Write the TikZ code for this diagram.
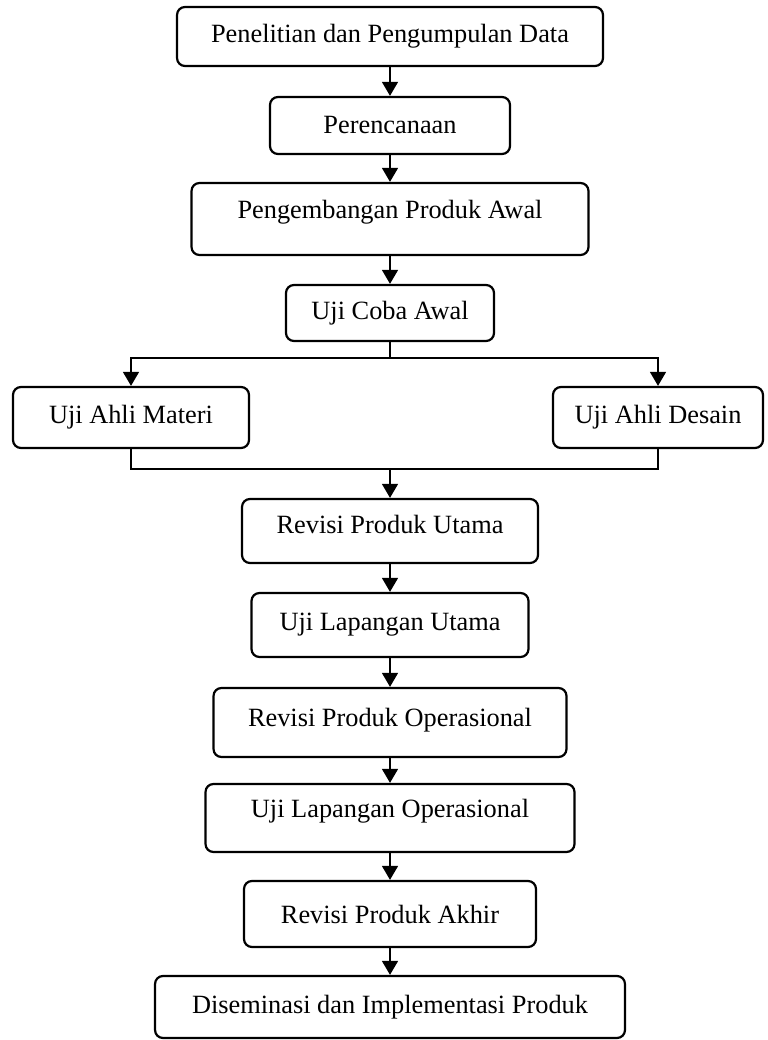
\documentclass[tikz,border=0pt]{standalone}
\usepackage{fontspec}
\setmainfont{Liberation Serif}
\usetikzlibrary{arrows.meta}

\begin{document}
\begin{tikzpicture}[
  x=0.02cm, y=-0.02cm,
  stage/.style={draw=black, line width=1.25pt, rounded corners=4.5pt, inner sep=0pt,
    font=\fontsize{15}{18}\selectfont},
  raised/.style={text depth=#1},
  flow/.style={draw=black, line width=1.25pt, -{Triangle[width=9pt,length=8pt]}},
  link/.style={draw=black, line width=1.25pt}
]
\useasboundingbox (0,0) rectangle (767,1040);
\node[stage, minimum width=8.52cm, minimum height=1.18cm] (pen) at (390,36.5) {Penelitian dan Pengumpulan Data};
\node[stage, minimum width=4.80cm, minimum height=1.14cm] (ren) at (390,125.5) {Perencanaan};
\node[stage, raised=11pt, minimum width=7.94cm, minimum height=1.44cm] (pgb) at (390,219) {Pengembangan Produk Awal};
\node[stage, minimum width=4.16cm, minimum height=1.12cm] (ujc) at (390,313) {Uji Coba Awal};
\node[stage, minimum width=4.72cm, minimum height=1.22cm] (mat) at (131,417.5) {Uji Ahli Materi};
\node[stage, minimum width=4.20cm, minimum height=1.22cm] (des) at (658,417.5) {Uji Ahli Desain};
\node[stage, raised=8pt, minimum width=5.92cm, minimum height=1.28cm] (rvu) at (390,531) {Revisi Produk Utama};
\node[stage, minimum width=5.54cm, minimum height=1.28cm] (ulu) at (390,625) {Uji Lapangan Utama};
\node[stage, raised=6pt, minimum width=7.06cm, minimum height=1.38cm] (rvo) at (390,722.5) {Revisi Produk Operasional};
\node[stage, raised=11pt, minimum width=7.38cm, minimum height=1.36cm] (ulo) at (390,818) {Uji Lapangan Operasional};
\node[stage, minimum width=5.84cm, minimum height=1.32cm] (rva) at (390,914) {Revisi Produk Akhir};
\node[stage, minimum width=9.40cm, minimum height=1.24cm] (dis) at (390,1007) {Diseminasi dan Implementasi Produk};
\coordinate (split) at (390,358);
\coordinate (merge) at (390,469);
\draw[flow] (pen) -- (ren);
\draw[flow] (ren) -- (pgb);
\draw[flow] (pgb) -- (ujc);
\draw[link] (ujc) -- (split);
\draw[flow] (split) -| (mat.north);
\draw[flow] (split) -| (des.north);
\draw[link] (mat.south) |- (merge) -| (des.south);
\draw[flow] (merge) -- (rvu);
\draw[flow] (rvu) -- (ulu);
\draw[flow] (ulu) -- (rvo);
\draw[flow] (rvo) -- (ulo);
\draw[flow] (ulo) -- (rva);
\draw[flow] (rva) -- (dis);
\end{tikzpicture}
\end{document}
